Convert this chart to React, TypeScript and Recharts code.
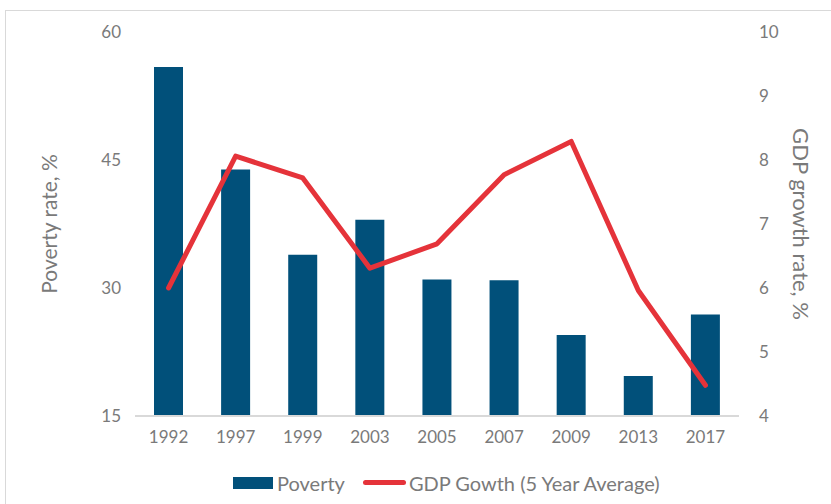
import React from 'react';
import { ComposedChart, Bar, Line, XAxis, YAxis, Legend } from 'recharts';

const years = ['1992', '1997', '1999', '2003', '2005', '2007', '2009', '2013', '2017'];
const poverty = [55.9, 43.9, 33.9, 38.0, 31.0, 30.9, 24.5, 19.7, 26.9];
const gdpGrowth = [6.0, 8.06, 7.72, 6.31, 6.69, 7.77, 8.29, 5.96, 4.48];
const leftTicks = [15, 30, 45, 60];
const rightTicks = [4, 5, 6, 7, 8, 9, 10];

const data = years.map((year, i) => ({ year, poverty: poverty[i], gdp: gdpGrowth[i] }));

const BAR_COLOR = '#01507a';
const LINE_COLOR = '#e5333a';
const TEXT_COLOR = '#7a7a7a';
const FONT = 'Lato, "Open Sans", sans-serif';

const tickStyle = { fill: TEXT_COLOR, fontSize: 17, fontFamily: FONT } as any;

const CustomLegend = () => (
  <div style={{ height: 44, paddingLeft: 233, paddingTop: 17, boxSizing: 'border-box', display: 'flex', alignItems: 'center', fontFamily: FONT, fontSize: 20, color: TEXT_COLOR }}>
    <span style={{ display: 'inline-block', width: 40, height: 12, background: BAR_COLOR, marginRight: 4 }} />
    <span style={{ marginRight: 18 }}>Poverty</span>
    <span style={{ display: 'inline-block', width: 43, height: 5, borderRadius: 3, background: LINE_COLOR, marginRight: 3 }} />
    <span>GDP Gowth (5 Year Average)</span>
  </div>
);

const App: React.FC = () => {
  return (
    <div style={{ position: 'absolute', left: 0, top: 0, width: 831, height: 504, background: '#fff' }}>
      <div style={{ position: 'absolute', left: 5, top: 10, right: 0, bottom: 0, borderLeft: '1px solid #d9d9d9', borderTop: '1px solid #d9d9d9' }} />
      <ComposedChart width={831} height={504} data={data} margin={{ top: 32, right: 30, left: 40, bottom: 8 }}>
        <XAxis
          dataKey="year"
          tickLine={false}
          tickSize={0}
          tickMargin={15}
          height={36}
          axisLine={{ stroke: '#d9d9d9', strokeWidth: 2 }}
          tick={tickStyle}
        />
        <YAxis
          yAxisId="left"
          domain={[15, 60]}
          ticks={leftTicks}
          axisLine={false}
          tickLine={false}
          tickSize={0}
          tickMargin={14}
          width={95}
          tick={tickStyle}
          label={{ value: 'Poverty rate, %', angle: -90, position: 'insideLeft', offset: 10, style: { fill: TEXT_COLOR, fontSize: 21, fontFamily: FONT, textAnchor: 'middle' } }}
        />
        <YAxis
          yAxisId="right"
          orientation="right"
          domain={[4, 10]}
          ticks={rightTicks}
          axisLine={false}
          tickLine={false}
          tickSize={0}
          tickMargin={20}
          width={62}
          tick={tickStyle}
          label={{ value: 'GDP growth rate, %', angle: 90, position: 'insideRight', offset: 0, style: { fill: TEXT_COLOR, fontSize: 22, fontFamily: FONT, textAnchor: 'middle' } }}
        />
        <Legend verticalAlign="bottom" wrapperStyle={{ left: 0, width: 831 }} content={<CustomLegend />} />
        <Bar yAxisId="left" dataKey="poverty" name="Poverty" fill={BAR_COLOR} barSize={29} isAnimationActive={false} />
        <Line
          yAxisId="right"
          dataKey="gdp"
          name="GDP Gowth (5 Year Average)"
          type="linear"
          stroke={LINE_COLOR}
          strokeWidth={5}
          strokeLinecap="round"
          strokeLinejoin="round"
          dot={false}
          activeDot={false}
          isAnimationActive={false}
        />
      </ComposedChart>
    </div>
  );
};

export default App;
